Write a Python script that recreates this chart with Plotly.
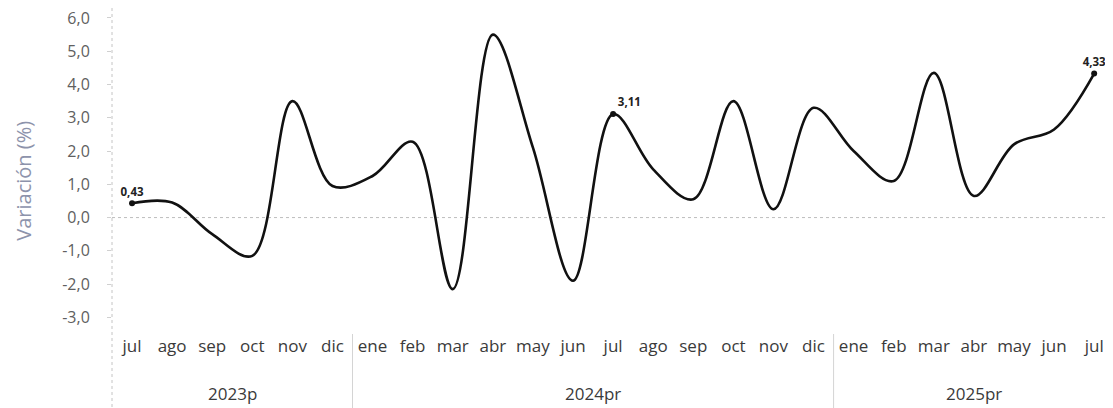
import plotly.graph_objects as go

# monthly variation (%), jul 2023 - jul 2025
months = ["jul", "ago", "sep", "oct", "nov", "dic",
          "ene", "feb", "mar", "abr", "may", "jun", "jul", "ago", "sep", "oct", "nov", "dic",
          "ene", "feb", "mar", "abr", "may", "jun", "jul"]
year_labels = ["2023p", "2024pr", "2025pr"]
year_counts = [6, 12, 7]
variacion = [0.43, 0.45, -0.50, -1.15, 3.50, 0.95,
             1.25, 2.28, -2.15, 5.50, 2.10, -1.90, 3.11, 1.45, 0.55, 3.50, 0.25, 3.30,
             2.00, 1.10, 4.35, 0.65, 2.20, 2.65, 4.33]
y_ticks = [-3, -2, -1, 0, 1, 2, 3, 4, 5, 6]

# points that carry a data label
labelled = [0, 12, 24]
label_pos = ["top center", "top right", "top center"]

idx = list(range(len(months)))
FONT = "Open Sans"

fig = go.Figure()

fig.add_trace(go.Scatter(
    x=idx,
    y=variacion,
    mode="lines",
    line=dict(color="#111111", width=2.6, shape="spline", smoothing=1.0),
    hoverinfo="y",
    cliponaxis=False,
))

fig.add_trace(go.Scatter(
    x=labelled,
    y=[variacion[i] for i in labelled],
    mode="markers+text",
    marker=dict(color="#111111", size=6),
    text=[f"{variacion[i]:.2f}".replace(".", ",") for i in labelled],
    textposition=label_pos,
    textfont=dict(family=FONT, size=11.5, color="#222222", weight="bold"),
    hoverinfo="skip",
    cliponaxis=False,
))

# year group labels and dividers under the month ticks
bottom = -74 / 326
start = 0
for label, n in zip(year_labels, year_counts):
    fig.add_annotation(
        x=start + (n - 1) / 2, y=-59 / 326, xref="x", yref="paper",
        text=label, showarrow=False, yanchor="middle",
        font=dict(family=FONT, size=17, color="#3a3a3a"),
    )
    if start > 0:
        fig.add_shape(type="line", xref="x", yref="paper",
                      x0=start - 0.5, x1=start - 0.5, y0=0, y1=bottom,
                      line=dict(color="#d4d4d4", width=1))
    start += n

# y axis title
fig.add_annotation(
    x=-0.088, y=0.47, xref="paper", yref="paper", textangle=-90,
    text="Variación (%)", showarrow=False, xanchor="center", yanchor="middle",
    font=dict(family=FONT, size=20, color="#8d93ab"),
)

# left axis line (dotted, runs through the label area) and zero line
fig.add_shape(type="line", xref="paper", yref="paper", x0=0, x1=0, y0=1, y1=bottom,
              line=dict(color="#c4c4c4", width=1, dash="dot"))
fig.add_shape(type="line", xref="paper", yref="y", x0=0, x1=1, y0=0, y1=0,
              line=dict(color="#bdbdbd", width=1, dash="dot"), layer="below")

fig.update_xaxes(
    range=[-0.5, 24.47],
    tickvals=idx,
    ticktext=months,
    showgrid=False,
    showline=False,
    zeroline=False,
    ticks="",
    tickfont=dict(family=FONT, size=17, color="#3a3a3a"),
    automargin=False,
)

fig.update_yaxes(
    range=[-3.5, 6.3],
    tickvals=y_ticks,
    ticktext=[f"{v:.1f}".replace(".", ",") for v in y_ticks],
    tickfont=dict(family=FONT, size=16, color="#606060"),
    ticklabelstandoff=14,
    ticklabeloverflow="allow",
    showgrid=False,
    zeroline=False,
    showline=False,
    ticks="outside",
    ticklen=4,
    tickcolor="#d0d0d0",
    automargin=False,
)

# the page body adds an 8px margin, so the figure is 8px smaller each way
fig.update_layout(
    width=1105,
    height=400,
    margin=dict(l=104, r=0, t=0, b=74),
    plot_bgcolor="white",
    paper_bgcolor="white",
    separators=",.",
    showlegend=False,
)

fig.write_html("out.html")
